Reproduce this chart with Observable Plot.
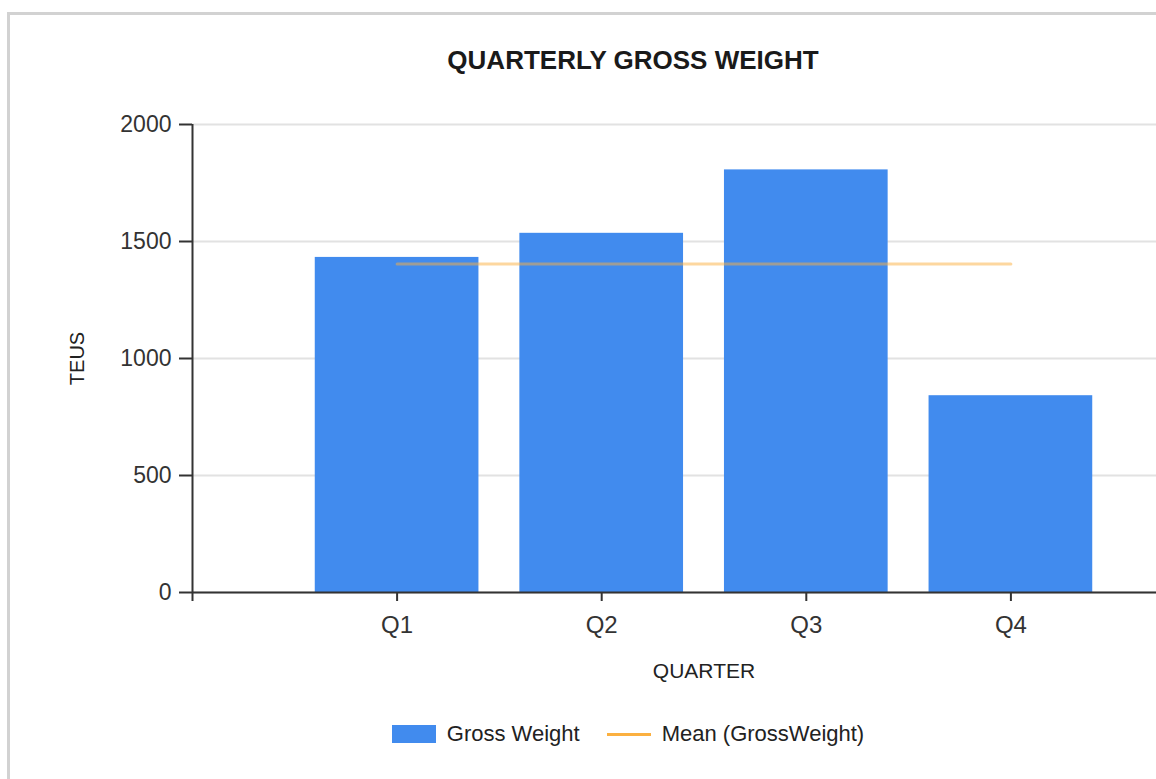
<!DOCTYPE html>
<html>
<head>
<meta charset="utf-8">
<script src="https://cdn.jsdelivr.net/npm/d3@7"></script>
<script src="https://cdn.jsdelivr.net/npm/@observablehq/plot@0.6"></script>
<style>
  html, body { margin: 0; padding: 0; width: 1156px; height: 779px; overflow: hidden; background: #fff; }
  body { position: relative; font-family: "Liberation Sans", Arial, sans-serif; color: #222; }
  #frame { position: absolute; left: 7px; top: 12px; width: 1400px; height: 900px;
           border-left: 3px solid #d2d2d2; border-top: 3px solid #d2d2d2; box-sizing: border-box; }
  #chart { position: absolute; left: 0; top: 0; width: 1260px; height: 779px; }
  #chart svg { max-width: none !important; width: 1260px; height: 779px; }
  #title { position: absolute; left: 7px; width: 1252px; top: 47px; text-align: center;
           font-size: 26px; line-height: 26px; font-weight: bold; color: #1a1a1a; white-space: nowrap; }
  #legend { position: absolute; left: 0; width: 1256px; top: 723px; display: flex; justify-content: center;
            align-items: center; font-size: 22px; line-height: 22px; color: #222; }
  .item { display: flex; align-items: center; }
  .sw-rect { width: 44px; height: 18px; background: #418bee; margin-right: 11px; }
  .sw-line { width: 44px; height: 3px; background: #fbb040; margin-right: 11px; }
  .gap { width: 27px; }
</style>
</head>
<body>
<div id="frame"></div>
<div id="chart"></div>
<div id="title"></div>
<div id="legend"></div>
<script>
// ---- data ----
const quarters = ["Q1", "Q2", "Q3", "Q4"];
const grossWeight = [1432, 1535, 1806, 841];
const yTicks = [0, 500, 1000, 1500, 2000];
const titleText = "QUARTERLY GROSS WEIGHT";
const xLabel = "QUARTER";
const yLabel = "TEUS";
const seriesNames = ["Gross Weight", "Mean (GrossWeight)"];

// ---- derived ----
const data = quarters.map((q, i) => ({quarter: q, pos: i + 1, value: grossWeight[i]}));
const mean = d3.mean(grossWeight);
const xTicks = [0, ...data.map(d => d.pos)];

const chart = Plot.plot({
  width: 1260,
  height: 779,
  marginTop: 124,
  marginBottom: 187,
  marginLeft: 192,
  marginRight: 45,
  style: {fontFamily: '"Liberation Sans", Arial, sans-serif', color: "#333", background: "transparent", overflow: "visible", maxWidth: "none"},
  x: {type: "linear", domain: [0, 5], axis: null},
  y: {domain: [0, 2000], axis: null},
  marks: [
    Plot.gridY(yTicks, {stroke: "#e2e2e2", strokeOpacity: 1, strokeWidth: 2}),
    Plot.rectY(data, {x1: d => d.pos - 0.4, x2: d => d.pos + 0.4, y: "value", fill: "#418bee"}),
    Plot.lineY(data, {x: "pos", y: () => mean, stroke: "#fbb040", strokeOpacity: 0.5, strokeWidth: 3}),
    Plot.ruleY([0], {stroke: "#333", strokeWidth: 2}),
    Plot.ruleX([0], {stroke: "#333", strokeWidth: 2}),
    Plot.axisY({ticks: yTicks, tickFormat: d => String(d), tickSize: 13, tickPadding: 8, fontSize: 23, strokeWidth: 2, label: null}),
    Plot.axisX({ticks: xTicks, tickFormat: v => v === 0 ? "" : quarters[v - 1], tickSize: 9, tickPadding: 14, fontSize: 24, strokeWidth: 2, label: null}),
    Plot.text([yLabel], {frameAnchor: "left", textAnchor: "middle", dx: -115, rotate: -90, fontSize: 20, fill: "#222"}),
    Plot.text([xLabel], {frameAnchor: "bottom", dy: 85, fontSize: 21, fill: "#222"})
  ]
});
document.getElementById("chart").appendChild(chart);
document.getElementById("title").textContent = titleText;

const legend = document.getElementById("legend");
legend.innerHTML = `
  <div class="item"><div class="sw-rect"></div><span>${seriesNames[0]}</span></div>
  <div class="gap"></div>
  <div class="item"><div class="sw-line"></div><span>${seriesNames[1]}</span></div>`;
</script>
</body>
</html>
